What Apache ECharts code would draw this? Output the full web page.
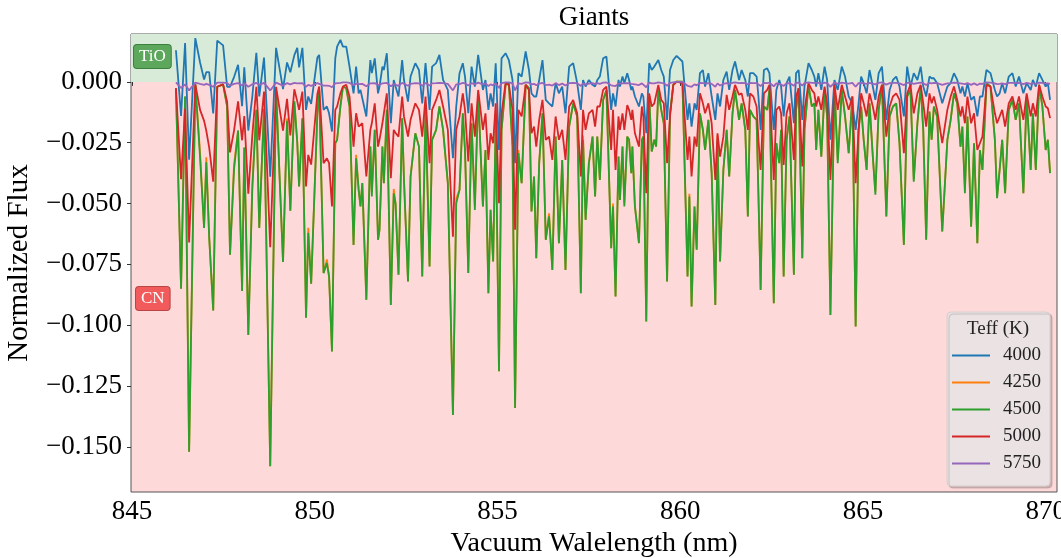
<!DOCTYPE html>
<html>
<head>
<meta charset="utf-8">
<script src="https://cdn.jsdelivr.net/npm/echarts@6/dist/echarts.min.js"></script>
<style>
html,body{margin:0;padding:0;background:#fff;overflow:hidden;}
#chart{width:1061px;height:558px;}
</style>
</head>
<body>
<div id="chart"></div>
<script>
// ---------------- DATA ----------------
const seriesNames = ['4000', '4250', '4500', '5000', '5750'];
const xTicks = [845, 850, 855, 860, 865, 870];
const yTicks = [-0.15, -0.125, -0.1, -0.075, -0.05, -0.025, 0];

const wavelength = [
846.20,846.34,846.45,846.56,846.73,846.86,846.97,847.03,847.11,847.22,847.33,847.49,847.60,847.68,847.79,847.90,848.01,848.07,848.18,848.29,848.40,848.48,848.61,848.78,848.94,849.13,849.24,849.33,849.44,849.52,849.57,849.66,849.76,849.82,849.90,850.07,
850.12,850.24,850.33,850.39,850.47,850.56,850.61,850.70,850.77,850.86,850.95,851.06,851.13,851.20,851.25,851.30,851.41,851.52,851.56,851.64,851.73,851.77,851.85,851.89,851.97,852.08,852.16,852.21,852.29,852.39,852.44,852.55,852.62,852.75,852.85,852.94,853.03,853.14,853.21,853.32,853.41,853.51,853.64,853.78,853.87,853.96,854.05,
854.11,854.20,854.29,854.38,854.47,854.60,854.67,854.75,854.81,854.88,854.95,855.04,855.11,855.22,855.31,855.41,855.48,855.57,855.66,855.77,855.86,855.93,856.00,856.06,856.14,856.23,856.32,856.41,856.50,856.59,856.68,856.77,856.86,856.96,857.07,857.18,857.28,857.34,857.41,857.50,857.60,857.67,857.73,857.80,857.89,857.98,
858.11,858.16,858.23,858.31,858.35,858.42,858.47,858.55,858.60,858.66,858.69,858.76,858.87,858.95,858.99,859.07,859.15,859.22,859.29,859.34,859.40,859.48,859.55,859.64,859.72,859.81,859.90,860.06,860.20,860.25,860.31,860.39,860.45,860.54,860.62,860.68,860.77,860.86,860.96,861.02,861.09,861.18,861.27,861.34,861.43,861.50,861.61,861.68,861.78,861.85,861.91,862.00,862.09,
862.14,862.20,862.29,862.38,862.44,862.56,862.63,862.71,862.76,862.83,862.91,862.99,863.11,863.17,863.24,863.34,863.40,863.51,863.60,863.67,863.72,863.78,863.86,863.95,864.02,864.11,864.22,864.31,864.42,864.51,864.61,864.71,864.80,864.88,864.95,865.02,865.10,865.18,865.27,865.34,865.43,865.52,865.64,865.73,865.82,865.91,866.00,
866.12,866.21,866.30,866.39,866.49,866.58,866.65,866.73,866.82,866.88,866.94,867.03,867.17,867.31,867.40,867.49,867.58,867.67,867.72,867.79,867.86,867.96,868.04,868.13,868.20,868.27,868.38,868.49,868.61,868.67,868.74,868.81,868.89,868.99,869.09,869.18,869.27,869.39,869.48,869.59,869.65,869.73,869.82,869.91,870.00,870.06,870.12
];

const flux4000 = [
0.013,-0.014,0.016,-0.032,0.018,0.008,0.001,0.004,0.004,-0.013,0.017,0.015,-0.002,-0.002,0.002,0.007,-0.010,0.006,-0.020,-0.006,0.012,-0.006,0.010,-0.039,0.014,-0.003,0.008,0.004,0.011,0.014,0.006,0.014,-0.0115,-0.006,-0.009,0.010,
0.0111,-0.0115,-0.0101,-0.0129,-0.0204,0.0097,0.0145,0.0173,0.0145,0.0145,0.0063,-0.0047,0.0063,-0.0047,-0.0033,-0.0033,-0.0142,0.0090,0.0036,0.0097,-0.0047,-0.0019,0.0063,0.0049,0.0118,-0.0170,0.0008,-0.0019,-0.0060,0.0090,0.0008,-0.0081,0.0022,0.0077,0.0049,-0.0088,0.0077,-0.0115,0.0063,0.0077,0.0111,0.0008,-0.0033,-0.0314,-0.0101,0.0036,0.0077,
0.0022,-0.0129,0.0063,-0.0019,0.0111,-0.0033,0.0008,-0.0115,-0.0047,-0.0101,0.0077,-0.0280,0.0097,0.0118,0.0090,0.0008,-0.0334,0.0036,0.0022,0.0125,0.0049,-0.0047,-0.0060,-0.0060,0.0008,0.0090,-0.0074,-0.0088,-0.0101,-0.0005,-0.0047,-0.0019,-0.0129,0.0063,0.0077,-0.0005,-0.0115,0.0008,-0.0019,0.0008,-0.0012,-0.0019,0.0008,0.0022,0.0097,0.0104,
-0.0115,-0.0047,-0.0101,0.0008,-0.0019,0.0022,-0.0005,0.0036,0.0008,-0.0033,-0.0019,-0.0060,-0.0101,-0.0047,-0.0060,-0.0211,0.0077,0.0049,0.0063,0.0063,0.0090,0.0049,0.0022,-0.0156,0.0049,0.0090,0.0107,0.0084,-0.0156,-0.0088,-0.0184,-0.0088,-0.0115,0.0036,0.0049,-0.0019,0.0036,-0.0060,-0.0156,-0.0047,-0.0101,0.0008,0.0042,-0.0033,0.0049,0.0084,0.0008,0.0049,0.0008,-0.0060,0.0036,0.0036,0.0022,
-0.0060,-0.0197,0.0049,0.0056,0.0036,-0.0197,-0.0033,0.0008,-0.0019,-0.0142,-0.0005,0.0022,-0.0170,0.0036,0.0049,-0.0156,-0.0019,0.0077,0.0049,0.0022,-0.0019,0.0036,-0.0033,0.0063,0.0008,-0.0238,0.0008,-0.0033,0.0063,0.0022,-0.0060,-0.0088,-0.0197,-0.0088,0.0022,-0.0005,-0.0047,0.0049,-0.0019,-0.0074,0.0036,0.0063,-0.0156,-0.0033,0.0008,0.0022,-0.0019,
-0.0142,0.0063,-0.0019,0.0036,0.0008,0.0063,-0.0019,-0.0060,0.0022,0.0015,0.0015,-0.0005,-0.0088,-0.0019,-0.0005,0.0036,0.0008,-0.0047,-0.0019,-0.0060,-0.0005,-0.0074,-0.0060,-0.0142,-0.0060,-0.0060,0.0049,0.0036,-0.0033,-0.0060,-0.0047,-0.0005,-0.0047,0.0022,0.0036,-0.0019,0.0022,-0.0047,-0.0005,-0.0033,0.0008,-0.0019,0.0036,0.0008,-0.0019,-0.0005,-0.0074
];

const flux4250 = [
-0.003,-0.085,-0.006,-0.152,-0.001,-0.029,-0.060,-0.031,-0.064,-0.094,-0.002,-0.001,-0.010,-0.071,-0.034,-0.020,-0.086,-0.027,-0.104,-0.042,-0.0115,-0.060,-0.011,-0.158,-0.003,-0.074,-0.015,-0.053,-0.008,-0.025,-0.043,-0.015,-0.097,-0.060,-0.083,-0.013,
-0.0033,-0.0786,-0.0730,-0.0800,-0.1108,-0.0252,-0.0238,-0.0101,-0.0019,-0.0026,-0.0101,-0.0670,-0.0300,-0.0444,-0.0512,-0.0416,-0.0896,-0.0266,-0.0450,-0.0197,-0.0649,-0.0608,-0.0266,-0.0416,-0.0115,-0.0917,-0.0440,-0.0499,-0.0793,-0.0149,-0.0403,-0.0820,-0.0389,-0.0211,-0.0266,-0.0800,-0.0115,-0.0759,-0.0238,-0.0197,-0.0101,-0.0197,-0.0416,-0.1369,-0.0480,-0.0444,-0.0129,
-0.0280,-0.0786,-0.0170,-0.0510,-0.0047,-0.0512,-0.0280,-0.0869,-0.0526,-0.0738,-0.0170,-0.1190,-0.0197,-0.0012,-0.0005,-0.0266,-0.1341,-0.0280,-0.0416,-0.0012,-0.0026,-0.0533,-0.0389,-0.0725,-0.0334,-0.0129,-0.0649,-0.0540,-0.0773,-0.0225,-0.0663,-0.0321,-0.0773,-0.0184,-0.0088,-0.0142,-0.0869,-0.0220,-0.0567,-0.0334,-0.0225,-0.0471,-0.0225,-0.0403,-0.0074,-0.0033,
-0.0684,-0.0500,-0.0882,-0.0307,-0.0485,-0.0266,-0.0500,-0.0225,-0.0238,-0.0375,-0.0266,-0.0512,-0.0663,-0.0238,-0.0225,-0.0985,-0.0060,-0.0286,-0.0238,-0.0266,-0.0033,-0.0115,-0.0170,-0.0820,-0.0129,-0.0012,0.0001,0.0001,-0.0800,-0.0460,-0.0923,-0.0512,-0.0690,-0.0129,-0.0197,-0.0280,-0.0156,-0.0375,-0.0917,-0.0220,-0.0738,-0.0362,-0.0197,-0.0389,-0.0129,-0.0033,-0.0156,-0.0088,-0.0197,-0.0553,-0.0115,-0.0142,-0.0156,
-0.0460,-0.0855,-0.0101,-0.0115,-0.0033,-0.0910,-0.0252,-0.0334,-0.0197,-0.0800,-0.0238,-0.0142,-0.0793,-0.0115,-0.0026,-0.0725,-0.0197,-0.0012,-0.0101,-0.0088,-0.0280,-0.0115,-0.0307,-0.0033,-0.0142,-0.0958,-0.0019,-0.0320,-0.0033,-0.0142,-0.0293,-0.0060,-0.1006,-0.0197,-0.0101,-0.0238,-0.0362,-0.0088,-0.0307,-0.0450,-0.0115,-0.0012,-0.0553,-0.0142,-0.0101,-0.0088,-0.0252,
-0.0670,-0.0060,-0.0033,-0.0400,-0.0170,-0.0019,-0.0197,-0.0649,-0.0122,-0.0238,-0.0101,-0.0142,-0.0615,-0.0238,-0.0156,-0.0047,-0.0088,-0.0266,-0.0184,-0.0440,-0.0142,-0.0595,-0.0252,-0.0663,-0.0280,-0.0362,-0.0005,-0.0019,-0.0238,-0.0470,-0.0362,-0.0238,-0.0458,-0.0115,-0.0074,-0.0156,-0.0088,-0.0458,-0.0060,-0.0362,-0.0129,-0.0362,-0.0012,-0.0101,-0.0280,-0.0238,-0.0375
];

const flux4500 = [
-0.003,-0.085,-0.006,-0.152,-0.001,-0.031,-0.060,-0.033,-0.064,-0.094,-0.002,-0.001,-0.010,-0.071,-0.036,-0.020,-0.086,-0.027,-0.104,-0.044,-0.0115,-0.060,-0.011,-0.158,-0.003,-0.074,-0.016,-0.053,-0.008,-0.025,-0.043,-0.015,-0.097,-0.062,-0.083,-0.013,
-0.0033,-0.0786,-0.0745,-0.0800,-0.1108,-0.0252,-0.0238,-0.0101,-0.0019,-0.0026,-0.0101,-0.0670,-0.0314,-0.0444,-0.0512,-0.0416,-0.0896,-0.0266,-0.0471,-0.0197,-0.0649,-0.0608,-0.0266,-0.0416,-0.0115,-0.0917,-0.0458,-0.0499,-0.0793,-0.0149,-0.0403,-0.0820,-0.0389,-0.0211,-0.0266,-0.0800,-0.0115,-0.0759,-0.0238,-0.0197,-0.0101,-0.0197,-0.0416,-0.1369,-0.0499,-0.0444,-0.0129,
-0.0280,-0.0786,-0.0170,-0.0526,-0.0047,-0.0512,-0.0280,-0.0869,-0.0526,-0.0738,-0.0170,-0.1190,-0.0197,-0.0012,-0.0005,-0.0266,-0.1341,-0.0293,-0.0416,-0.0012,-0.0026,-0.0533,-0.0389,-0.0725,-0.0334,-0.0129,-0.0649,-0.0553,-0.0773,-0.0225,-0.0663,-0.0321,-0.0773,-0.0184,-0.0088,-0.0142,-0.0869,-0.0238,-0.0567,-0.0334,-0.0225,-0.0471,-0.0225,-0.0403,-0.0074,-0.0033,
-0.0684,-0.0512,-0.0882,-0.0307,-0.0485,-0.0266,-0.0512,-0.0225,-0.0238,-0.0375,-0.0266,-0.0512,-0.0663,-0.0238,-0.0225,-0.0985,-0.0060,-0.0286,-0.0238,-0.0266,-0.0033,-0.0115,-0.0170,-0.0820,-0.0129,-0.0012,0.0001,0.0001,-0.0800,-0.0471,-0.0923,-0.0512,-0.0690,-0.0129,-0.0197,-0.0280,-0.0156,-0.0375,-0.0917,-0.0238,-0.0738,-0.0362,-0.0197,-0.0389,-0.0129,-0.0033,-0.0156,-0.0088,-0.0197,-0.0553,-0.0115,-0.0142,-0.0156,
-0.0471,-0.0855,-0.0101,-0.0115,-0.0033,-0.0910,-0.0252,-0.0334,-0.0197,-0.0800,-0.0238,-0.0142,-0.0793,-0.0115,-0.0026,-0.0725,-0.0197,-0.0012,-0.0101,-0.0088,-0.0280,-0.0115,-0.0307,-0.0033,-0.0142,-0.0958,-0.0019,-0.0334,-0.0033,-0.0142,-0.0293,-0.0060,-0.1006,-0.0197,-0.0101,-0.0238,-0.0362,-0.0088,-0.0307,-0.0464,-0.0115,-0.0012,-0.0553,-0.0142,-0.0101,-0.0088,-0.0252,
-0.0670,-0.0060,-0.0033,-0.0410,-0.0170,-0.0019,-0.0197,-0.0649,-0.0122,-0.0238,-0.0101,-0.0142,-0.0615,-0.0238,-0.0156,-0.0047,-0.0088,-0.0266,-0.0184,-0.0458,-0.0142,-0.0595,-0.0252,-0.0663,-0.0280,-0.0362,-0.0005,-0.0019,-0.0238,-0.0478,-0.0362,-0.0238,-0.0458,-0.0115,-0.0074,-0.0156,-0.0088,-0.0458,-0.0060,-0.0362,-0.0129,-0.0362,-0.0012,-0.0101,-0.0280,-0.0238,-0.0375
];

const flux5000 = [
-0.0025,-0.040,-0.011,-0.066,-0.001,-0.0115,-0.016,-0.020,-0.027,-0.041,-0.002,-0.001,-0.008,-0.029,-0.020,-0.008,-0.024,-0.014,-0.046,-0.022,-0.002,-0.024,-0.004,-0.068,-0.002,-0.020,-0.007,-0.022,-0.003,-0.008,-0.0115,-0.004,-0.043,-0.030,-0.034,-0.005,
-0.0019,-0.0334,-0.0314,-0.0334,-0.0512,-0.0115,-0.0101,-0.0047,-0.0019,-0.0012,-0.0060,-0.0266,-0.0129,-0.0184,-0.0184,-0.0170,-0.0389,-0.0197,-0.0170,-0.0088,-0.0266,-0.0238,-0.0170,-0.0129,-0.0047,-0.0396,-0.0197,-0.0210,-0.0225,-0.0060,-0.0142,-0.0225,-0.0156,-0.0088,-0.0115,-0.0225,-0.0060,-0.0334,-0.0115,-0.0074,-0.0033,-0.0101,-0.0197,-0.0636,-0.0197,-0.0142,-0.0047,
-0.0115,-0.0327,-0.0088,-0.0225,-0.0033,-0.0197,-0.0129,-0.0321,-0.0211,-0.0252,-0.0088,-0.0499,-0.0129,-0.0005,-0.0012,-0.0115,-0.0608,-0.0115,-0.0142,-0.0012,-0.0033,-0.0211,-0.0184,-0.0266,-0.0156,-0.0074,-0.0238,-0.0225,-0.0321,-0.0142,-0.0238,-0.0197,-0.0321,-0.0101,-0.0074,-0.0129,-0.0389,-0.0115,-0.0197,-0.0129,-0.0115,-0.0184,-0.0101,-0.0101,-0.0033,-0.0019,
-0.0280,-0.0115,-0.0362,-0.0142,-0.0197,-0.0129,-0.0197,-0.0095,-0.0115,-0.0156,-0.0115,-0.0211,-0.0266,-0.0101,-0.0142,-0.0458,-0.0047,-0.0101,-0.0088,-0.0088,-0.0012,-0.0074,-0.0088,-0.0334,-0.0142,-0.0012,0.0001,-0.0005,-0.0321,-0.0225,-0.0389,-0.0225,-0.0266,-0.0047,-0.0088,-0.0129,-0.0088,-0.0170,-0.0403,-0.0211,-0.0307,-0.0225,-0.0053,-0.0115,-0.0060,-0.0012,-0.0053,-0.0047,-0.0115,-0.0197,-0.0047,-0.0060,-0.0101,
-0.0238,-0.0362,-0.0047,-0.0033,-0.0012,-0.0403,-0.0115,-0.0101,-0.0129,-0.0341,-0.0129,-0.0088,-0.0321,-0.0060,-0.0026,-0.0348,-0.0115,-0.0005,-0.0033,-0.0047,-0.0101,-0.0060,-0.0115,-0.0019,-0.0088,-0.0403,-0.0012,-0.0115,-0.0012,-0.0060,-0.0115,-0.0060,-0.0416,-0.0197,-0.0047,-0.0088,-0.0142,-0.0047,-0.0101,-0.0156,-0.0060,-0.0012,-0.0225,-0.0101,-0.0060,-0.0047,-0.0074,
-0.0293,-0.0047,-0.0012,-0.0129,-0.0047,-0.0012,-0.0088,-0.0184,-0.0047,-0.0088,-0.0060,-0.0115,-0.0252,-0.0115,-0.0060,-0.0019,-0.0074,-0.0142,-0.0101,-0.0170,-0.0060,-0.0170,-0.0129,-0.0280,-0.0252,-0.0225,-0.0012,-0.0019,-0.0129,-0.0170,-0.0142,-0.0115,-0.0184,-0.0088,-0.0060,-0.0115,-0.0060,-0.0156,-0.0047,-0.0142,-0.0088,-0.0142,-0.0012,-0.0060,-0.0101,-0.0108,-0.0149
];

const flux5750 = [
-0.0002,-0.0025,-0.0010,-0.0035,-0.0003,-0.0008,-0.0012,-0.0008,-0.0012,-0.0020,-0.0003,-0.0003,-0.0005,-0.0015,-0.0008,-0.0005,-0.0015,-0.0006,-0.0020,-0.0010,-0.0004,-0.0012,-0.0004,-0.0035,-0.0003,-0.0015,-0.0005,-0.0010,-0.0004,-0.0006,-0.0009,-0.0005,-0.0020,-0.0012,-0.0016,-0.0005,
-0.0003,-0.0015,-0.0015,-0.0016,-0.0022,-0.0006,-0.0006,-0.0004,-0.0002,-0.0002,-0.0004,-0.0014,-0.0007,-0.0009,-0.0010,-0.0008,-0.0018,-0.0006,-0.0009,-0.0005,-0.0013,-0.0012,-0.0006,-0.0008,-0.0004,-0.0018,-0.0009,-0.0010,-0.0016,-0.0004,-0.0008,-0.0016,-0.0008,-0.0005,-0.0006,-0.0016,-0.0004,-0.0015,-0.0006,-0.0005,-0.0004,-0.0005,-0.0008,-0.0035,-0.0010,-0.0009,-0.0004,
-0.0006,-0.0015,-0.0005,-0.0010,-0.0003,-0.0010,-0.0006,-0.0017,-0.0010,-0.0014,-0.0005,-0.0025,-0.0005,-0.0002,-0.0002,-0.0006,-0.0035,-0.0006,-0.0008,-0.0002,-0.0003,-0.0010,-0.0008,-0.0014,-0.0007,-0.0004,-0.0013,-0.0011,-0.0015,-0.0005,-0.0013,-0.0007,-0.0015,-0.0005,-0.0004,-0.0005,-0.0017,-0.0006,-0.0011,-0.0007,-0.0005,-0.0009,-0.0005,-0.0008,-0.0003,-0.0002,
-0.0014,-0.0010,-0.0017,-0.0007,-0.0010,-0.0006,-0.0010,-0.0005,-0.0006,-0.0008,-0.0006,-0.0010,-0.0013,-0.0006,-0.0005,-0.0022,-0.0003,-0.0006,-0.0006,-0.0006,-0.0002,-0.0004,-0.0005,-0.0016,-0.0004,-0.0002,0.0000,0.0000,-0.0016,-0.0010,-0.0020,-0.0010,-0.0014,-0.0004,-0.0005,-0.0006,-0.0005,-0.0008,-0.0020,-0.0006,-0.0015,-0.0008,-0.0005,-0.0008,-0.0004,-0.0002,-0.0005,-0.0004,-0.0005,-0.0011,-0.0004,-0.0005,-0.0005,
-0.0010,-0.0017,-0.0004,-0.0005,-0.0003,-0.0018,-0.0006,-0.0008,-0.0005,-0.0016,-0.0006,-0.0005,-0.0016,-0.0004,-0.0003,-0.0015,-0.0005,-0.0002,-0.0004,-0.0004,-0.0007,-0.0004,-0.0008,-0.0003,-0.0005,-0.0020,-0.0003,-0.0008,-0.0003,-0.0005,-0.0007,-0.0004,-0.0020,-0.0005,-0.0004,-0.0006,-0.0008,-0.0004,-0.0007,-0.0010,-0.0004,-0.0002,-0.0011,-0.0005,-0.0004,-0.0004,-0.0006,
-0.0013,-0.0004,-0.0003,-0.0008,-0.0005,-0.0003,-0.0005,-0.0013,-0.0004,-0.0006,-0.0004,-0.0005,-0.0012,-0.0006,-0.0005,-0.0003,-0.0004,-0.0006,-0.0005,-0.0009,-0.0005,-0.0012,-0.0006,-0.0013,-0.0007,-0.0008,-0.0002,-0.0003,-0.0006,-0.0009,-0.0008,-0.0006,-0.0009,-0.0004,-0.0004,-0.0005,-0.0004,-0.0009,-0.0004,-0.0008,-0.0005,-0.0008,-0.0003,-0.0004,-0.0007,-0.0006,-0.0008
];

// --------------- CHART ----------------
const X_MIN = 844.97, X_MAX = 870.31;
const Y_MIN = -0.1686, Y_MAX = 0.0197;
const colors = ['#1f77b4', '#ff7f0e', '#2ca02c', '#d62728', '#9467bd'];
const fluxes = [flux4000, flux4250, flux4500, flux5000, flux5750];
const FONT = '"Liberation Serif", "DejaVu Serif", serif';

const chart = echarts.init(document.getElementById('chart'), null, {renderer: 'canvas'});

function fmtY(v) {
  if (Math.abs(v) < 1e-9) return '0.000';
  return (v < 0 ? '\u2212' : '') + Math.abs(v).toFixed(3);
}

const lineSeries = seriesNames.map((name, i) => ({
  name: name,
  type: 'line',
  data: wavelength.map((w, k) => [w, fluxes[i][k]]),
  symbol: 'none',
  showSymbol: false,
  smooth: false,
  z: 3,
  lineStyle: {width: 1.8, color: colors[i]},
  itemStyle: {color: colors[i]},
  emphasis: {disabled: true},
  animation: false
}));

const option = {
  animation: false,
  backgroundColor: '#ffffff',
  grid: {
    left: 131, right: 4, top: 34, bottom: 66,
    outerBoundsMode: 'none',
    containLabel: false,
    show: true, backgroundColor: '#fed9d9',
    borderColor: '#555', borderWidth: 1
  },
  xAxis: {
    type: 'value', min: X_MIN, max: X_MAX,
    name: 'Vacuum Walelength (nm)', nameLocation: 'middle', nameGap: 33,
    nameTextStyle: {fontFamily: FONT, fontSize: 28, color: '#000'},
    axisLine: {show: false},
    splitLine: {show: false},
    axisTick: {show: true, length: 4, customValues: xTicks, lineStyle: {color: '#333'}},
    axisLabel: {
      customValues: xTicks, margin: 6, fontFamily: FONT, fontSize: 27, color: '#000',
      formatter: v => String(Math.round(v))
    }
  },
  yAxis: {
    type: 'value', min: Y_MIN, max: Y_MAX,
    name: 'Normalized Flux', nameLocation: 'middle', nameGap: 97, nameRotate: 90,
    nameTextStyle: {fontFamily: FONT, fontSize: 29, color: '#000'},
    axisLine: {show: false},
    splitLine: {show: false},
    axisTick: {show: true, length: 4, customValues: yTicks, lineStyle: {color: '#333'}},
    axisLabel: {
      customValues: yTicks, margin: 9, fontFamily: FONT, fontSize: 27, color: '#000',
      formatter: fmtY
    }
  },
  legend: {
    data: seriesNames,
    orient: 'vertical',
    left: 952, top: 346,
    icon: 'rect',
    itemWidth: 38, itemHeight: 2, itemGap: 8,
    padding: 0,
    z: 10,
    textStyle: {fontFamily: FONT, fontSize: 19, color: '#222', lineHeight: 19, padding: [0, 0, 0, 8]},
    selectedMode: false
  },
  graphic: [
    {
      type: 'text', z: 5,
      style: {x: 594, y: 18, text: 'Giants', textAlign: 'center', textVerticalAlign: 'middle',
        font: '27px ' + FONT, fill: '#000'}
    },
    {
      type: 'text', z: 5,
      style: {x: 134, y: 45, text: 'TiO', font: '17px ' + FONT, fill: '#ffffff',
        backgroundColor: '#5ca75c', borderColor: '#3d7f3d', borderWidth: 1, borderRadius: 3,
        padding: [3, 5, 3, 5]}
    },
    {
      type: 'text', z: 5,
      style: {x: 136, y: 287, text: 'CN', font: '17px ' + FONT, fill: '#ffffff',
        backgroundColor: '#f25b5b', borderColor: '#b84444', borderWidth: 1, borderRadius: 3,
        padding: [3, 5, 3, 5]}
    },
    {
      type: 'rect', z: 8,
      shape: {x: 947, y: 312, width: 103, height: 174, r: 4},
      style: {fill: '#ebe3e3', stroke: '#d6cece', lineWidth: 1,
        shadowColor: 'rgba(0,0,0,0.18)', shadowOffsetX: 2, shadowOffsetY: 2, shadowBlur: 1}
    },
    {
      type: 'text', z: 9,
      style: {x: 998, y: 329, text: 'Teff (K)', textAlign: 'center', textVerticalAlign: 'middle',
        font: '19px ' + FONT, fill: '#222'}
    }
  ],
  series: [
    {
      name: 'bands', type: 'line', data: [], z: 1, silent: true,
      markArea: {
        silent: true,
        itemStyle: {color: '#d8ebd8'},
        data: [[{yAxis: 0}, {yAxis: Y_MAX}]]
      }
    }
  ].concat(lineSeries)
};

chart.setOption(option);
</script>
</body>
</html>
